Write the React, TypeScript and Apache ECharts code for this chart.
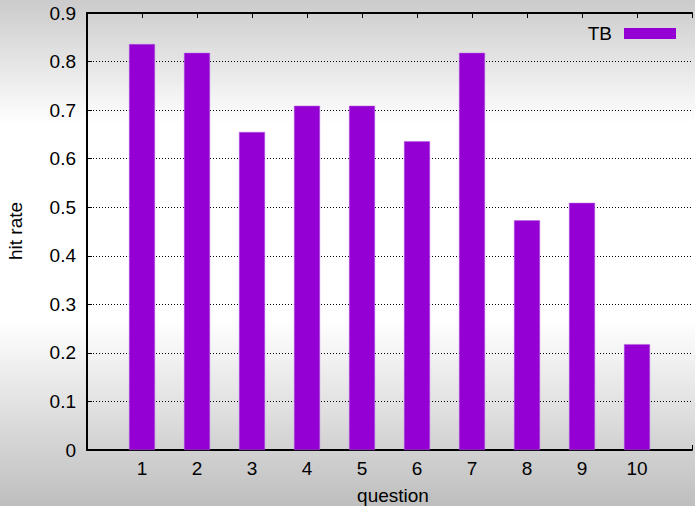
import React, { useEffect, useRef } from "react";
import * as echarts from "echarts";

const questions = [1, 2, 3, 4, 5, 6, 7, 8, 9, 10];
const hitRate = [0.836, 0.818, 0.655, 0.709, 0.709, 0.636, 0.818, 0.473, 0.509, 0.218];
const seriesName = "TB";
const yTicks = [0, 0.1, 0.2, 0.3, 0.4, 0.5, 0.6, 0.7, 0.8, 0.9];

function bgShade(y: number): number {
  // background gray level at a given pixel row
  if (y < 125) return 203 + (255 - 203) * (y / 125);
  if (y < 320) return 255;
  return 255 - (255 - 190) * ((y - 320) / 186);
}

function bgStrips() {
  const out: any[] = [];
  const step = 3;
  for (let y = 0; y < 506; y += step) {
    const g = Math.round(bgShade(y + step / 2));
    out.push({
      type: "rect",
      z: -10,
      silent: true,
      shape: { x: 0, y, width: 695, height: step + 0.5 },
      style: { fill: `rgb(${g},${g},${g})` },
    });
  }
  return out;
}

export default function App() {
  const ref = useRef<HTMLDivElement>(null);
  useEffect(() => {
    if (!ref.current) return;
    const chart = echarts.init(ref.current, undefined, { renderer: "svg" });
    const font = "'Liberation Sans', Arial, sans-serif";
    const fs = 19;
    chart.setOption({
      animation: false,
      backgroundColor: "transparent",
      textStyle: { fontFamily: font },
      grid: { left: 87, top: 13, right: -4, bottom: 56, containLabel: false },
      legend: {
        data: [seriesName],
        right: 14,
        top: 19,
        align: "right",
        itemWidth: 52,
        itemHeight: 11,
        icon: "rect",
        itemStyle: { borderWidth: 0 },
        textStyle: { fontSize: fs, color: "#000", fontFamily: font, padding: [0, 7, 0, 0] },
      },
      xAxis: [
        {
          type: "value",
          min: 0,
          max: 11,
          interval: 1,
          position: "bottom",
          axisLine: { show: true, onZero: false, lineStyle: { color: "#000", width: 2 } },
          axisTick: { show: true, inside: true, length: 5, lineStyle: { color: "#000" } },
          axisLabel: {
            fontSize: fs,
            color: "#000",
            margin: 9,
            fontFamily: font,
            formatter: (v: number) => (questions.includes(v) ? String(v) : ""),
          },
          splitLine: { show: false },
        },
        {
          type: "value",
          min: 0,
          max: 11,
          interval: 1,
          position: "top",
          axisLine: { show: true, onZero: false, lineStyle: { color: "#000", width: 2 } },
          axisTick: { show: true, inside: true, length: 5, lineStyle: { color: "#000" } },
          axisLabel: { show: false },
          splitLine: { show: false },
        },
      ],
      yAxis: {
        type: "value",
        min: yTicks[0],
        max: yTicks[yTicks.length - 1],
        interval: 0.1,
        axisLine: { show: true, onZero: false, lineStyle: { color: "#000", width: 2 } },
        axisTick: { show: true, inside: true, length: 5, lineStyle: { color: "#000" } },
        axisLabel: {
          fontSize: fs,
          color: "#000",
          margin: 11,
          fontFamily: font,
          formatter: (v: number) => (Math.abs(v) < 1e-9 ? "0" : v.toFixed(1)),
        },
        splitLine: { show: true, lineStyle: { color: "#000", type: [1, 2], width: 1 } },
      },
      graphic: [
        ...bgStrips(),
        {
          type: "text",
          x: 15,
          y: 231,
          rotation: Math.PI / 2,
          style: {
            text: "hit rate",
            fontSize: fs,
            fontFamily: font,
            fill: "#000",
            align: "center",
            verticalAlign: "middle",
          },
        },
        {
          type: "text",
          x: 393,
          y: 495,
          style: {
            text: "question",
            fontSize: fs,
            fontFamily: font,
            fill: "#000",
            align: "center",
            verticalAlign: "middle",
          },
        },
      ],
      series: [
        {
          name: seriesName,
          type: "bar",
          xAxisIndex: 0,
          barWidth: 26,
          itemStyle: { color: "#9400d3", borderColor: "#b060e0", borderWidth: 0.5 },
          data: questions.map((q, i) => [q, hitRate[i]]),
        },
      ],
    });
    return () => chart.dispose();
  }, []);
  return (
    <div style={{ position: "absolute", left: 0, top: 0, width: 695, height: 506 }}>
      <div ref={ref} style={{ width: 695, height: 506 }} />
    </div>
  );
}
